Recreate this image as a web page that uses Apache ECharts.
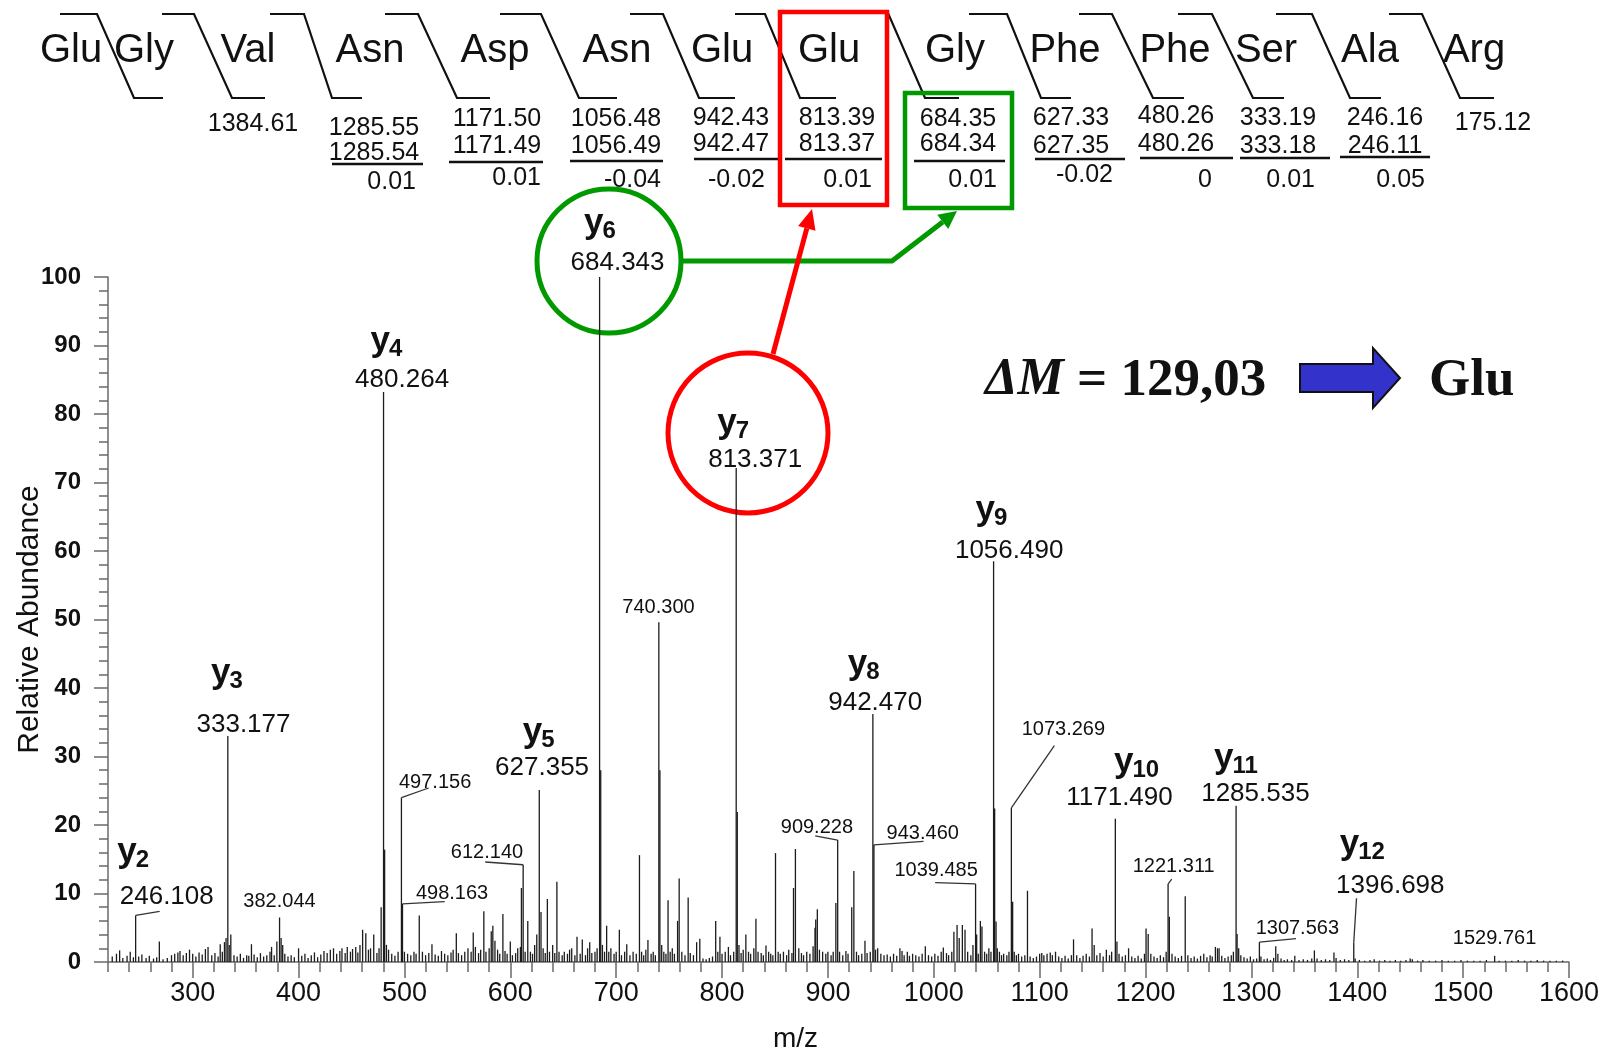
<!DOCTYPE html>
<html><head><meta charset="utf-8">
<script src="https://cdn.jsdelivr.net/npm/echarts@6/dist/echarts.min.js"></script>
<style>html,body{margin:0;padding:0;background:#fff}#c{width:1603px;height:1051px}</style>
</head><body><div id="c"></div>
<script>
// ---------------- DATA ----------------
// peptide sequence (top)
const residues = ['Glu','Gly','Val','Asn','Asp','Asn','Glu','Glu','Gly','Phe','Phe','Ser','Ala','Arg'];
const calcMasses = ['1384.61','1285.55','1171.50','1056.48','942.43','813.39','684.35','627.33','480.26','333.19','246.16','175.12'];
const obsMasses  = [null,'1285.54','1171.49','1056.49','942.47','813.37','684.34','627.35','480.26','333.18','246.11',null];
const massDiffs  = [null,'0.01','0.01','-0.04','-0.02','0.01','0.01','-0.02','0','0.01','0.05',null];

// spectrum peaks [m/z, relative abundance]
const peaks220_400 = [[224,0.8],[228,1.2],[231,1.7],[234,0.6],[238,0.9],[241,1.5],[244,0.7],[246.108,6.8],[249,0.8],[252,1.1],[256,0.6],[259,0.9],[263,0.5],[266,0.7],[268.5,3.0],[272,0.4],[276,0.6],[280,1.0],[283,1.2],[286,1.4],[288,1.6],[291,1.0],[294,1.3],[297,1.8],[300,1.2],[303,0.8],[306,1.4],[309,1.1],[312,1.9],[314.5,2.2],[318,1.0],[321,1.3],[324,0.8],[326,2.6],[328,1.5],[330,2.9],[331.5,3.5],[333.177,33.0],[334.5,2.5],[336,4.0],[339,1.0],[342,0.8],[345,1.2],[348,0.6],[351,1.0],[353,0.9],[355.5,2.6],[358,1.1],[361,0.7],[364,1.3],[367,0.8],[370,1.0],[373,1.5],[374.5,2.2],[377,1.0],[379.5,3.0],[382.044,6.5],[383.5,3.5],[385,2.5],[387,1.2],[390,0.8],[393,1.0],[396,0.7],[400,2.0]];
const peaks400_600 = [[403,0.9],[406,1.2],[409,0.6],[412,1.0],[415,1.4],[418,0.7],[421,1.1],[424,1.6],[427,1.3],[430,1.8],[433,2.0],[436,1.2],[439,1.6],[441,2.0],[444,1.3],[446,2.2],[449,1.5],[451,1.9],[454,2.2],[456,1.4],[458,2.5],[460.5,4.7],[463.5,4.2],[466,1.8],[468,2.0],[471,4.0],[474,1.3],[476,2.0],[478,8.0],[480.264,83.2],[481.3,16.4],[483,2.5],[485,1.8],[488,1.2],[491,0.9],[494,1.5],[497.156,24.0],[498.163,8.5],[500,1.5],[503,1.2],[506,1.0],[509,1.5],[511,1.2],[514,6.8],[517,1.5],[520,1.0],[523,1.3],[526,2.6],[529,1.1],[532,0.9],[535,1.6],[538,1.2],[541,1.0],[544,1.4],[546,1.8],[549,4.2],[551,1.3],[554,1.0],[557,1.5],[560,2.0],[563,1.5],[565,4.3],[567,2.2],[570,1.3],[572,1.8],[575,7.4],[577,1.5],[580,2.0],[582,4.5],[583.5,5.3],[585.5,3.1],[588,1.8],[590,1.2],[593,7.0],[595,1.6],[597,1.2],[600,3.0]];
const peaks600_800 = [[602,1.0],[605,1.3],[607,2.0],[609.5,2.2],[610.5,10.8],[612.140,14.2],[614,1.5],[616.5,6.0],[619,1.5],[621,1.2],[623,2.5],[625,4.0],[627.355,25.1],[629,7.3],[631,2.0],[633,1.3],[635,9.2],[637,1.5],[640,2.5],[642,1.3],[644,11.7],[646,1.5],[649,1.0],[651,1.5],[654,1.2],[656,1.8],[658,2.0],[661,1.0],[663,3.7],[666,1.2],[668,3.3],[671,1.0],[673,2.0],[675,2.9],[677,1.3],[680,1.5],[682,2.0],[684.343,100],[685.4,28.0],[687,2.5],[689,1.5],[691,5.3],[693,1.5],[695,2.0],[698,1.2],[700,1.5],[703,4.7],[705,1.0],[708,1.5],[710,2.6],[713,1.0],[716,1.5],[719,1.2],[722,15.6],[724,1.5],[726,1.0],[728,1.8],[730,3.2],[733,1.2],[735,1.5],[737,1.0],[740.300,49.6],[741.3,28.0],[743,2.5],[745,1.5],[747,1.2],[749,9.0],[751,1.5],[753,2.0],[755,1.2],[758,6.0],[759.5,12.2],[762,1.5],[765,1.0],[768,9.4],[770,1.3],[773,1.0],[776,2.9],[779,3.4],[782,0.5],[785,0.4],[788,0.6],[791,0.8],[794,6.0],[796,1.5],[798,3.7],[800,1.2]];
const peaks800_1000 = [[803,1.5],[806,2.2],[808,1.0],[811,1.5],[813.371,72.1],[814.4,21.9],[816,2.5],[818,1.3],[820,1.8],[822.5,4.0],[825,1.5],[827,1.2],[830,2.0],[832,6.3],[834,1.5],[837,1.3],[839,1.0],[841.5,2.4],[844,1.5],[846,1.2],[848,1.0],[850.5,15.9],[853,1.5],[855,1.2],[858,1.5],[861,1.0],[863,1.8],[866,1.3],[867.5,10.8],[869.3,16.5],[872.5,2.0],[875,1.3],[877,1.0],[880,1.5],[883,1.2],[886,2.3],[887.8,5.0],[888.5,6.2],[890,7.7],[892,1.8],[895,1.5],[898,1.2],[900,1.5],[903,1.0],[905,1.5],[907.5,8.6],[909.228,17.8],[911,1.5],[914,1.0],[917,1.6],[919,1.2],[922.5,8.0],[924.5,13.3],[927,1.5],[929,1.0],[932,1.2],[935,3.1],[937,1.3],[940,1.5],[942.470,36.2],[943.460,17.1],[945,1.8],[947,2.0],[950,1.2],[953,1.0],[956,1.1],[959,0.8],[962,1.2],[965,0.9],[968,2.0],[970,1.6],[972,1.0],[975,1.5],[977,0.9],[980,1.2],[983,1.0],[986,0.8],[989,1.2],[992,2.3],[995,1.0],[998,0.8]];
const peaks1000_1200 = [[1001,1.2],[1004,0.9],[1007,1.5],[1009,2.1],[1012,1.3],[1014,1.0],[1017,1.5],[1019,4.4],[1022,5.4],[1024,3.5],[1027,5.4],[1029.5,4.7],[1032,1.5],[1035,1.0],[1037,2.5],[1039.485,11.4],[1040.5,4.0],[1042,1.2],[1044,6.0],[1045.5,5.2],[1048,1.5],[1050,1.2],[1052,2.0],[1054,1.5],[1056.490,58.5],[1057.5,22.4],[1058.8,5.9],[1060,2.0],[1062,1.5],[1064,1.0],[1066,1.2],[1069,1.0],[1071,1.5],[1073.269,22.5],[1074.5,8.8],[1076,1.5],[1078,1.0],[1080,1.2],[1083,0.8],[1086,1.0],[1088.5,10.4],[1091,0.8],[1094,0.6],[1097,0.8],[1100,1.2],[1102,1.3],[1104,1.0],[1107,1.2],[1110,1.4],[1112,1.0],[1115,1.5],[1118,0.8],[1121,0.6],[1124,0.9],[1127,0.5],[1130,1.0],[1132,3.3],[1135,1.0],[1138,0.6],[1141,0.9],[1144,1.2],[1147,0.8],[1149.5,4.9],[1151.5,2.5],[1154,1.0],[1157,1.3],[1160,0.8],[1163,1.8],[1166,1.0],[1168,1.5],[1171.490,20.9],[1173,3.0],[1175,1.2],[1178,0.8],[1181,1.0],[1184,2.0],[1187,0.8],[1190,0.6],[1193,0.9],[1196,0.5],[1199,1.2]];
const peaks1200_1600 = [[1200.5,4.9],[1202.5,4.1],[1205,1.2],[1208,0.8],[1211,0.6],[1214,1.0],[1217,0.7],[1219.5,1.5],[1221.311,11.4],[1222.5,6.6],[1225,1.2],[1228,0.8],[1231,0.6],[1234,0.9],[1237.5,9.6],[1240,1.0],[1243,0.6],[1246,0.8],[1249,0.5],[1252,0.9],[1255,1.2],[1258,0.7],[1261,1.0],[1263,0.8],[1266,2.2],[1268,2.0],[1269.5,2.0],[1272,0.9],[1275,0.6],[1278,0.8],[1281,1.0],[1283,1.5],[1285.535,22.8],[1286.5,4.1],[1288,2.0],[1290,1.0],[1293,0.7],[1296,0.5],[1299,0.8],[1302,0.4],[1305,0.5],[1307.563,2.9],[1309,0.8],[1312,0.4],[1315,0.5],[1318,0.3],[1321,0.6],[1323,2.3],[1325,1.2],[1328,0.5],[1331,0.3],[1334,0.4],[1338,0.3],[1341,0.9],[1345,0.3],[1349,0.4],[1353,0.3],[1357,0.5],[1359.5,1.7],[1362,0.5],[1366,0.3],[1370,0.4],[1374,0.3],[1378,1.4],[1380,0.6],[1384,0.3],[1388,0.4],[1392,0.3],[1396.698,2.8],[1398,0.5],[1402,0.3],[1407,0.2],[1412,0.3],[1416,0.4],[1421,0.2],[1426,0.3],[1431,0.2],[1436,0.3],[1441,0.2],[1446,0.3],[1450,0.5],[1452,0.4],[1457,0.2],[1462,0.3],[1468,0.2],[1474,0.2],[1480,0.3],[1486,0.2],[1492,0.2],[1498,0.3],[1504,0.2],[1510,0.2],[1516,0.2],[1522,0.3],[1529.761,0.9],[1534,0.2],[1540,0.2],[1546,0.2],[1552,0.3],[1558,0.2],[1564,0.2],[1570,0.3],[1576,0.2],[1582,0.2],[1588,0.2],[1594,0.2]];

// annotated peaks
const annMz  = [246.108,333.177,382.044,480.264,497.156,498.163,612.140,627.355,684.343,740.300,813.371,909.228,942.470,943.460,1039.485,1056.490,1073.269,1171.490,1221.311,1285.535,1307.563,1396.698,1529.761];
const annIon = ['y2','y3','','y4','','','','y5','y6','','y7','','y8','','','y9','','y10','','y11','','y12',''];

// axis ticks
const xLabelValues = [300,400,500,600,700,800,900,1000,1100,1200,1300,1400,1500,1600];

// ---------------- LAYOUT (positions only) ----------------
// label centres in data coordinates [m/z, abundance]
const annTextPos = [[275.5,9.5],[348,34.6],[382,8.9],[497.8,85.0],[529,26.2],[545,10.0],[578,16.0],[630,28.3],[701.3,102.1],[740,51.8],[831.3,73.3],[889.6,19.6],[944.7,37.8],[989.6,18.7],[1002.2,13.3],[1071.2,60.0],[1122.4,33.9],[1175.4,24.0],[1226.6,13.9],[1303.8,24.5],[1343.4,4.9],[1431.2,11.1],[1529.7,3.4]];
const annIonPos  = [[244,16.0],[332.7,42.1],null,[483.3,90.6],null,null,null,[627.1,33.5],[685,107.9],null,[810.8,78.7],null,[934.1,43.5],null,null,[1054.7,65.9],null,[1191.8,29.1],null,[1286.4,29.7],null,[1405.1,17.2],null];
const annLeader  = [[268.8,7.4],null,null,null,[522.9,25.4],[538,8.8],[576.3,14.6],null,null,null,null,[888,18.4],null,[990.3,17.6],[1001.3,11.6],null,[1113.9,31.6],null,[1224.8,12.1],null,[1342.1,3.4],[1399.3,9.3],null];

const resX = [71,144,248,370,495,617,722,829,955,1065,1175,1266,1370,1474];
const sepLines = [
 [[60,14],[97,14],[134,98],[163,98]],[[162,14],[194,14],[232,98],[265,98]],[[270,14],[304,14],[332,98],[362,98]],
 [[385,14],[418,14],[457,98],[490,98]],[[500,14],[541,14],[579,98],[617,98]],[[630,14],[663,14],[699,98],[735,98]],
 [[735,14],[765,14],[800,98],[836,98]],[[862,13],[888,13],[925,98],[959,98]],[[969,14],[1007,14],[1041,98],[1071,98]],
 [[1079,14],[1112,14],[1153,98],[1184,98]],[[1178,14],[1212,14],[1253,98],[1284,98]],[[1276,14],[1312,14],[1350,98],[1381,98]],
 [[1389,14],[1422,14],[1460,98],[1494,98]]];
const colX = [253,374,497,616,731,837,958,1071,1176,1278,1385,1493];
const row1Y = [124,128,119,119,118,118,119,118,116,118,118,123];
const row2Y = [0,153,146,146,144,144,144,146,144,146,146,0];
const diffRight = [0,416,541,661,765,872,997,1113,1212,1315,1425,0];
const diffY = [0,182,178,180,180,180,180,175,180,180,180,0];
const ulines = [null,[332,423,164],[449,543,162],[570,663,161],[694,780,159],[785,882,159],[914,1005,161],[1035,1125,159],[1140,1233,158],[1240,1330,158],[1340,1430,157],null];

// ---------------- BUILD ----------------
const SANS = '"Liberation Sans", Arial, sans-serif';
const SERIF = '"Liberation Serif", "Times New Roman", serif';
const allPeaks = [].concat(peaks220_400, peaks400_600, peaks600_800, peaks800_1000, peaks1000_1200, peaks1200_1600);
function peakHeight(m){ const p = allPeaks.find(q => Math.abs(q[0]-m) < 1e-6); return p ? p[1] : 0; }

function ionText(cx, cy, ion){
  const sub = ion.slice(1);
  const wy = 19, ws = 13.4*sub.length;
  const left = cx - (wy+ws)/2;
  return [
    {type:'text', style:{text:'y', x:left, y:cy, font:'bold 35px '+SANS, fill:'#111', textAlign:'left', textVerticalAlign:'middle'}},
    {type:'text', style:{text:sub, x:left+wy-0.5, y:cy+8, font:'bold 24px '+SANS, fill:'#111', textAlign:'left', textVerticalAlign:'middle'}}
  ];
}

function arrowHead(x1,y1,x2,y2,len,w){
  const dx=x2-x1, dy=y2-y1, L=Math.hypot(dx,dy), ux=dx/L, uy=dy/L;
  const bx=x2-ux*len, by=y2-uy*len;
  return {tip:[x2,y2], base:[bx,by], pts:[[x2,y2],[bx-uy*w,by+ux*w],[bx+uy*w,by-ux*w]]};
}

const graphics = [];
residues.forEach((r,i)=>graphics.push({type:'text', style:{text:r, x:resX[i], y:51, font:'40px '+SANS, fill:'#111', textAlign:'center', textVerticalAlign:'middle'}}));
sepLines.forEach(pts=>graphics.push({type:'polyline', shape:{points:pts}, style:{stroke:'#111', lineWidth:2.2, fill:null}}));
calcMasses.forEach((t,i)=>graphics.push({type:'text', style:{text:t, x:colX[i], y:row1Y[i], font:'25px '+SANS, fill:'#111', textAlign:'center', textVerticalAlign:'middle'}}));
obsMasses.forEach((t,i)=>{ if(t) graphics.push({type:'text', style:{text:t, x:colX[i], y:row2Y[i], font:'25px '+SANS, fill:'#111', textAlign:'center', textVerticalAlign:'middle'}}); });
massDiffs.forEach((t,i)=>{ if(t) graphics.push({type:'text', style:{text:t, x:diffRight[i], y:diffY[i], font:'25px '+SANS, fill:'#111', textAlign:'right', textVerticalAlign:'middle'}}); });
ulines.forEach(u=>{ if(u) graphics.push({type:'line', shape:{x1:u[0],y1:u[2],x2:u[1],y2:u[2]}, style:{stroke:'#111', lineWidth:2.5}}); });

// boxes & circles
graphics.push({type:'rect', shape:{x:780,y:12,width:107,height:193}, style:{stroke:'#ff0000', lineWidth:4.5, fill:null}});
graphics.push({type:'rect', shape:{x:905,y:93,width:107,height:115}, style:{stroke:'#009900', lineWidth:4.5, fill:null}});
graphics.push({type:'circle', shape:{cx:609,cy:261,r:72}, style:{stroke:'#009900', lineWidth:5, fill:null}});
graphics.push({type:'circle', shape:{cx:748,cy:433,r:80}, style:{stroke:'#ff0000', lineWidth:5, fill:null}});
const ga = arrowHead(892,261,957,211,18,9);
graphics.push({type:'polyline', shape:{points:[[683,261],[892,261],ga.base]}, style:{stroke:'#009900', lineWidth:5, fill:null}});
graphics.push({type:'polygon', shape:{points:ga.pts}, style:{fill:'#009900'}});
const ra = arrowHead(773,354,812,209,20,9);
graphics.push({type:'line', shape:{x1:773,y1:354,x2:ra.base[0],y2:ra.base[1]}, style:{stroke:'#ff0000', lineWidth:5}});
graphics.push({type:'polygon', shape:{points:ra.pts}, style:{fill:'#ff0000'}});

// ΔM annotation
graphics.push({type:'text', style:{text:'ΔM', x:985, y:381, font:'italic bold 52px '+SERIF, fill:'#111', textAlign:'left', textVerticalAlign:'middle'}});
graphics.push({type:'text', style:{text:'= 129,03', x:1077, y:381, font:'bold 53px '+SERIF, fill:'#111', textAlign:'left', textVerticalAlign:'middle'}});
graphics.push({type:'polygon', shape:{points:[[1300,364],[1373,364],[1373,348],[1400,378],[1373,408],[1373,392],[1300,392]]}, style:{fill:'#3333cc', stroke:'#111', lineWidth:2}});
graphics.push({type:'text', style:{text:'Glu', x:1429, y:381, font:'bold 53px '+SERIF, fill:'#111', textAlign:'left', textVerticalAlign:'middle'}});

const chart = echarts.init(document.getElementById('c'), null, {renderer:'canvas'});
const axisGrey = '#6a6a6a';
chart.setOption({
  animation:false,
  backgroundColor:'#fff',
  grid:{left:108, right:34, top:277, bottom:89, containLabel:false, outerBoundsMode:'none'},
  xAxis:[{
    type:'value', min:220, max:1600, interval:20,
    name:'m/z', nameLocation:'middle', nameGap:63,
    nameTextStyle:{fontFamily:SANS, fontSize:28, color:'#111', padding:[0,86,0,0]},
    axisLine:{show:true, lineStyle:{color:axisGrey, width:1.5}},
    axisTick:{show:true, length:10, lineStyle:{color:axisGrey, width:1.5}},
    axisLabel:{show:false},
    splitLine:{show:false}
  },{
    type:'value', min:220, max:1600, position:'bottom',
    axisLine:{show:false},
    axisTick:{show:true, length:16, customValues:xLabelValues, lineStyle:{color:axisGrey, width:1.5}},
    axisLabel:{show:true, customValues:xLabelValues, margin:18, fontFamily:SANS, fontSize:27, color:'#111', formatter:v=>String(v)},
    splitLine:{show:false}
  }],
  yAxis:{
    type:'value', min:0, max:100, interval:10,
    name:'Relative Abundance', nameLocation:'middle', nameGap:63, nameRotate:90, nameMoveOverlap:false,
    nameTextStyle:{fontFamily:SANS, fontSize:30, color:'#111'},
    axisLine:{show:true, lineStyle:{color:axisGrey, width:1.5}},
    axisTick:{show:true, length:14, lineStyle:{color:axisGrey, width:1.5}},
    minorTick:{show:true, splitNumber:5, length:9, lineStyle:{color:axisGrey, width:1.5}},
    axisLabel:{margin:27, fontFamily:SANS, fontSize:24, fontWeight:'bold', color:'#111'},
    splitLine:{show:false}
  },
  series:[{
    type:'custom', coordinateSystem:'cartesian2d', xAxisIndex:0, data:allPeaks, encode:{x:0,y:1}, silent:true, clip:false,
    renderItem:(params, api)=>{
      const x = api.value(0), y = api.value(1);
      const p0 = api.coord([x,0]), p1 = api.coord([x,y]);
      return {type:'line', shape:{x1:p0[0], y1:p0[1], x2:p1[0], y2:p1[1]}, style:{stroke:'#1c1c1c', lineWidth:1.3}};
    }
  },{
    type:'custom', coordinateSystem:'cartesian2d', xAxisIndex:0, silent:true, clip:false,
    data: annMz.map((m,i)=>[m, peakHeight(m), i]), encode:{x:0,y:1},
    renderItem:(params, api)=>{
      const i = params.dataIndex;
      const m = annMz[i], h = peakHeight(m);
      const children = [];
      const tp = api.coord(annTextPos[i]);
      const big = annIon[i] !== '';
      children.push({type:'text', style:{text:m.toFixed(3), x:tp[0], y:tp[1], font:(big?'26px ':'20px ')+SANS, fill:'#111', textAlign:'center', textVerticalAlign:'middle'}});
      if (big) { const ip = api.coord(annIonPos[i]); ionText(ip[0], ip[1], annIon[i]).forEach(c=>children.push(c)); }
      if (annLeader[i]) { const a = api.coord([m,h]); const b = api.coord(annLeader[i]); children.push({type:'polyline', shape:{points:[a,b]}, style:{stroke:'#333', lineWidth:1.3, fill:null}}); }
      return {type:'group', children};
    }
  }],
  graphic: graphics
});
</script></body></html>
